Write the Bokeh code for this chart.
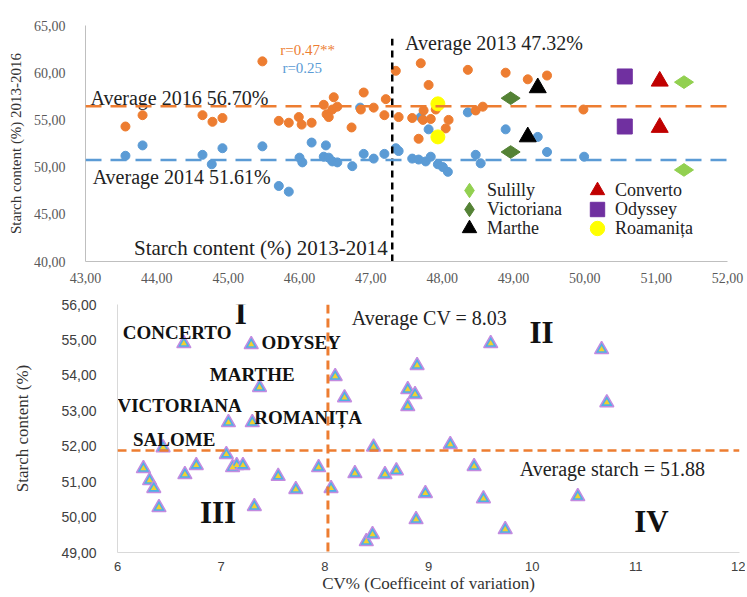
from bokeh.plotting import figure
from bokeh.models import Span, Legend, LegendItem, FixedTicker
from bokeh.embed import file_html
from bokeh.resources import INLINE
from bokeh.core.properties import value
import math

SERIF = "Liberation Serif"
SANS = "Liberation Sans"
ORANGE = "#ED7D31"
BLUE = "#5B9BD5"

# ---------------- top chart data ----------------
top_x_ticks = [43, 44, 45, 46, 47, 48, 49, 50, 51, 52]
top_x_labels = ["43,00", "44,00", "45,00", "46,00", "47,00", "48,00", "49,00", "50,00", "51,00", "52,00"]
top_y_ticks = [40, 45, 50, 55, 60, 65]
top_y_labels = ["40,00", "45,00", "50,00", "55,00", "60,00", "65,00"]

# 2016 starch vs 2013 starch (orange)
or_x = [43.56, 43.80, 44.64, 44.78, 44.92, 45.48, 45.71, 45.85, 45.99, 46.03,
        46.17, 46.34, 46.38, 46.41, 46.46, 46.53, 46.48, 46.73, 46.86, 46.90,
        47.04, 47.21, 47.19, 47.35, 47.70, 48.36, 48.89, 47.81, 47.39, 47.58,
        47.73, 47.84, 47.74, 47.91, 48.09, 48.05, 47.67, 48.47, 48.57, 49.20,
        49.47, 49.98]
or_y = [54.3, 55.5, 55.5, 54.8, 55.2, 61.2, 54.9, 54.7, 55.3, 54.5,
        54.7, 56.6, 55.6, 55.3, 56.1, 56.4, 57.4, 54.2, 56.1, 57.9,
        56.3, 57.2, 55.5, 60.2, 61.0, 60.3, 60.0, 58.7, 55.3, 55.2,
        55.0, 55.1, 56.0, 56.1, 55.0, 54.1, 53.0, 56.0, 56.4, 59.3,
        59.7, 56.1]
# 2014 starch vs 2013 starch (blue)
bl_x = [43.56, 43.80, 44.64, 44.77, 44.92, 45.48, 45.71, 45.85, 46.00, 46.04,
        46.17, 46.37, 46.34, 46.41, 46.46, 46.53, 46.74, 46.90, 47.04, 47.19,
        46.85, 47.70, 47.81, 48.36, 48.89, 47.35, 47.39, 47.58, 47.67, 47.77,
        47.84, 47.94, 48.01, 48.08, 48.47, 48.54, 49.34, 49.47, 49.99]
bl_y = [51.2, 52.3, 51.3, 50.3, 52.0, 52.2, 48.0, 47.4, 51.0, 50.5,
        52.6, 52.3, 51.1, 51.0, 50.6, 50.5, 50.1, 51.4, 50.9, 51.4,
        56.3, 55.3, 54.0, 55.8, 54.0, 52.0, 51.7, 50.9, 50.8, 50.6,
        51.1, 50.3, 50.0, 49.5, 51.3, 50.4, 53.2, 51.6, 51.1]

# highlighted varieties: [2016 point, 2014 point]
sul_x = [51.39, 51.39]; sul_y = [59.0, 49.7]
vic_x = [48.96, 48.96]; vic_y = [57.3, 51.6]
mar_x = [49.34, 49.20]; mar_y = [58.4, 53.2]
con_x = [51.05, 51.05]; con_y = [59.1, 54.2]
ody_x = [50.56, 50.56]; ody_y = [59.6, 54.3]
rom_x = [47.94, 47.94]; rom_y = [56.7, 53.2]

avg_2016_line = 56.45
avg_2014_line = 50.75
avg_2013_line = 47.30

# ---------------- bottom chart data ----------------
cv = [6.64, 7.29, 7.37, 7.07, 7.30, 6.44, 8.10, 8.19, 8.47, 9.60,
      10.67, 8.89, 8.80, 8.87, 8.80, 10.72, 9.21, 6.25, 6.31, 6.35,
      6.40, 6.65, 6.76, 7.05, 7.11, 7.15, 7.21, 7.32, 7.55, 7.72,
      7.94, 8.06, 8.29, 8.40, 8.46, 8.58, 8.69, 9.44, 8.97, 9.53,
      10.44, 8.88, 9.74]
starch = [54.90, 54.87, 53.66, 52.67, 52.67, 51.96, 53.97, 53.37, 51.98, 54.90,
          54.73, 54.28, 53.60, 53.46, 53.12, 53.23, 52.05, 51.37, 51.03, 50.81,
          50.27, 51.20, 51.46, 51.77, 51.40, 51.46, 51.46, 50.30, 51.15, 50.78,
          51.40, 50.81, 51.23, 49.31, 49.51, 51.20, 51.31, 51.43, 50.67, 50.52,
          50.58, 49.93, 49.65]
bot_x_ticks = [6, 7, 8, 9, 10, 11, 12]
bot_x_labels = ["6", "7", "8", "9", "10", "11", "12"]
bot_y_ticks = [49, 50, 51, 52, 53, 54, 55, 56]
bot_y_labels = ["49,00", "50,00", "51,00", "52,00", "53,00", "54,00", "55,00", "56,00"]
avg_cv = 8.03
avg_starch = 51.88

# =============== TOP FIGURE ===============
p1 = figure(width=745, height=285, x_range=(43, 52), y_range=(40, 65),
            output_backend="svg", toolbar_location=None,
            min_border_left=85, min_border_right=18, min_border_top=25, min_border_bottom=22)
p1.grid.visible = False
p1.outline_line_color = None

for ax, ticks, labels in ((p1.xaxis[0], top_x_ticks, top_x_labels), (p1.yaxis[0], top_y_ticks, top_y_labels)):
    ax.ticker = FixedTicker(ticks=ticks)
    ax.major_label_overrides = {t: l for t, l in zip(ticks, labels)}
    ax.major_tick_line_color = None
    ax.minor_tick_line_color = None
    ax.axis_line_color = "#bfbfbf"
    ax.major_label_text_font = SERIF
    ax.major_label_text_font_size = "14px"
    ax.major_label_text_color = "#595959"

p1.xaxis.major_label_standoff = 5
p1.yaxis.major_label_standoff = 14
p1.yaxis.axis_label = "Starch content (%) 2013-2016"
p1.yaxis.axis_label_text_font = SERIF
p1.yaxis.axis_label_text_font_style = "normal"
p1.yaxis.axis_label_text_font_size = "15px"
p1.yaxis.axis_label_text_color = "#333333"
p1.yaxis.axis_label_standoff = 7

p1.scatter(bl_x, bl_y, size=9, color=BLUE)
p1.scatter(or_x, or_y, size=9, color=ORANGE)

r_sul = p1.scatter(sul_x, sul_y, marker="diamond", angle=math.pi / 2, size=19, color="#92D050")
r_vic = p1.scatter(vic_x, vic_y, marker="diamond", angle=math.pi / 2, size=19, color="#548235")
r_mar = p1.scatter(mar_x, mar_y, marker="triangle", size=17, color="black")
r_con = p1.scatter(con_x, con_y, marker="triangle", size=17, color="#C00000")
r_ody = p1.scatter(ody_x, ody_y, marker="square", size=15, color="#7030A0")
r_rom = p1.scatter(rom_x, rom_y, marker="circle", size=14, color="#FFFF00")

p1.add_layout(Span(location=avg_2016_line, dimension="width", line_color=ORANGE,
                   line_dash="16 9", line_width=2.5))
p1.add_layout(Span(location=avg_2014_line, dimension="width", line_color=BLUE,
                   line_dash="16 9", line_width=2.5))
p1.segment(x0=[avg_2013_line], y0=[40], x1=[avg_2013_line], y1=[63.6],
           line_color="black", line_dash="7 5", line_width=2.5)

ann = dict(text_font=value(SERIF), text_font_size="20px", text_baseline="middle", text_color="#222222")
p1.text(x=[43.07], y=[57.3], text=["Average 2016 56.70%"], **ann)
p1.text(x=[43.10], y=[48.9], text=["Average 2014 51.61%"], **ann)
p1.text(x=[47.48], y=[63.1], text=["Average 2013 47.32%"], **ann)
p1.text(x=[45.73], y=[62.4], text=["r=0.47**"], text_font=value(SERIF),
        text_font_size="15px", text_baseline="middle", text_color=ORANGE)
p1.text(x=[45.76], y=[60.5], text=["r=0.25"], text_font=value(SERIF),
        text_font_size="15px", text_baseline="middle", text_color=BLUE)
p1.text(x=[43.68], y=[41.4], text=["Starch content (%) 2013-2014"], text_font=value(SERIF),
        text_font_size="21px", text_baseline="middle", text_color="#222222")

def add_legend_item(label, renderer, x, y):
    lg = Legend(items=[LegendItem(label=label, renderers=[renderer])], location=(x, y),
                background_fill_alpha=0, border_line_color=None,
                label_text_font=SERIF, label_text_font_size="18px", label_text_color="#222222",
                glyph_width=36, glyph_height=36, label_height=36,
                padding=0, margin=0, label_standoff=0, spacing=0)
    p1.add_layout(lg)

add_legend_item("Sulilly", r_sul, 366, 53)
add_legend_item("Victoriana", r_vic, 366, 34)
add_legend_item("Marthe", r_mar, 366, 15)
add_legend_item("Converto", r_con, 494, 53)
add_legend_item("Odyssey", r_ody, 494, 34)
add_legend_item("Roamanița", r_rom, 494, 15)

# =============== BOTTOM FIGURE ===============
p2 = figure(width=745, height=310, x_range=(6, 12), y_range=(49, 56),
            output_backend="svg", toolbar_location=None,
            min_border_left=117, min_border_right=6, min_border_top=19, min_border_bottom=41)
p2.grid.visible = False
p2.outline_line_color = None

for ax, ticks, labels in ((p2.xaxis[0], bot_x_ticks, bot_x_labels), (p2.yaxis[0], bot_y_ticks, bot_y_labels)):
    ax.ticker = FixedTicker(ticks=ticks)
    ax.major_label_overrides = {t: l for t, l in zip(ticks, labels)}
    ax.major_tick_line_color = None
    ax.minor_tick_line_color = None
    ax.axis_line_color = "#d9d9d9"
    ax.major_label_text_font = SANS
    ax.major_label_text_font_size = "14px"
    ax.major_label_text_color = "#404040"
    ax.axis_label_text_font = SERIF
    ax.axis_label_text_font_style = "normal"
    ax.axis_label_text_color = "#333333"

p2.xaxis.major_label_text_font_size = "13px"
p2.xaxis.major_label_standoff = 3
p2.yaxis.major_label_standoff = 15
p2.xaxis.axis_label = "CV% (Coefficeint of variation)"
p2.xaxis.axis_label_text_font_size = "17px"
p2.xaxis.axis_label_standoff = 0
p2.yaxis.axis_label = "Starch content (%)"
p2.yaxis.axis_label_text_font_size = "17px"
p2.yaxis.axis_label_standoff = 26

p2.add_layout(Span(location=avg_cv, dimension="height", line_color=ORANGE,
                   line_dash="9 5", line_width=3))
p2.add_layout(Span(location=avg_starch, dimension="width", line_color=ORANGE,
                   line_dash="9 5", line_width=2.5))

p2.scatter(cv, starch, marker="triangle", size=14, fill_color="#4FB0E6",
           line_color="#C38BE0", line_width=1.5)
p2.scatter(cv, starch, marker="triangle", size=6, fill_color="#F2D12E", line_color=None)

big = dict(text_font=value(SERIF), text_font_style="bold", text_font_size="31px",
           text_baseline="middle", text_align="center", text_color="#111111")
p2.text(x=[7.19], y=[55.74], text=["I"], **big)
p2.text(x=[10.09], y=[55.22], text=["II"], **big)
p2.text(x=[6.97], y=[50.13], text=["III"], **big)
p2.text(x=[11.15], y=[49.87], text=["IV"], **big)

reg = dict(text_font=value(SERIF), text_font_size="20px", text_baseline="middle", text_color="#222222")
p2.text(x=[8.26], y=[55.63], text=["Average CV = 8.03"], **reg)
p2.text(x=[9.88], y=[51.37], text=["Average starch = 51.88"], **reg)

lab = dict(text_font=value(SERIF), text_font_style="bold", text_font_size="19px",
           text_baseline="middle", text_color="#111111")
p2.text(x=[6.05], y=[55.21], text=["CONCERTO"], **lab)
p2.text(x=[7.39], y=[54.93], text=["ODYSEY"], **lab)
p2.text(x=[6.89], y=[54.02], text=["MARTHE"], **lab)
p2.text(x=[6.00], y=[53.15], text=["VICTORIANA"], **lab)
p2.text(x=[7.32], y=[52.81], text=["ROMANIȚA"], **lab)
p2.text(x=[6.15], y=[52.19], text=["SALOME"], **lab)

open("out.html", "w").write(file_html([p1, p2], INLINE))
